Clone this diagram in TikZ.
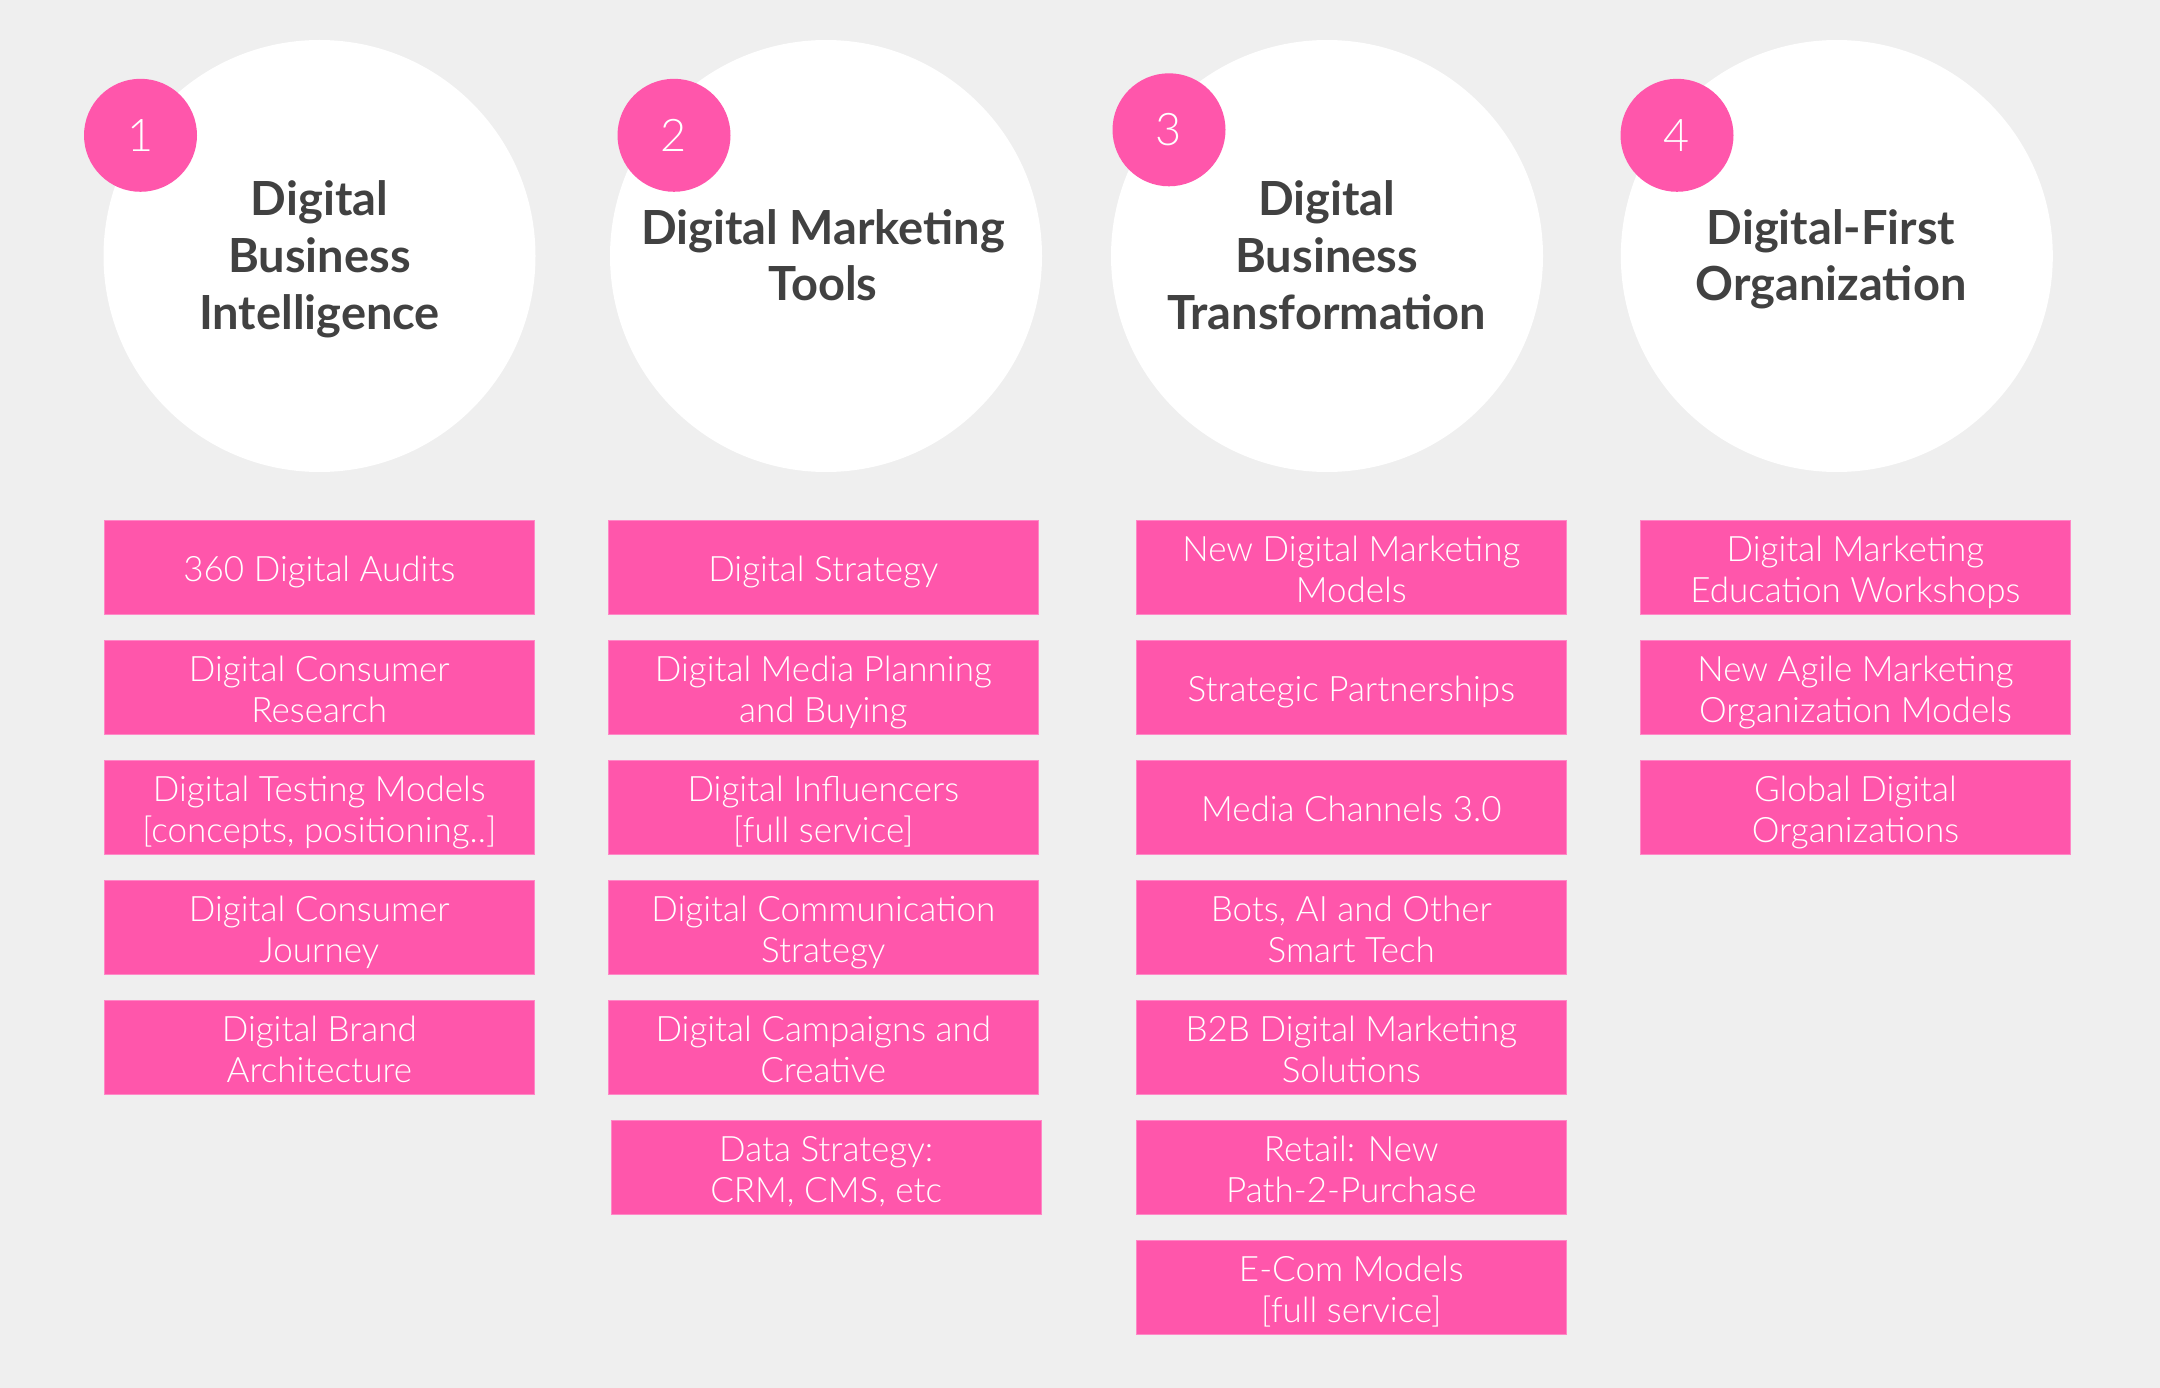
\documentclass[tikz,border=0pt]{standalone}
\usepackage{fontspec}
\setmainfont{Lato}
\newfontfamily\lightfont{Lato Light}
\definecolor{bg}{RGB}{239,239,239}
\definecolor{pinkfill}{RGB}{255,86,171}
\definecolor{pinkedge}{RGB}{255,135,198}
\definecolor{ink}{RGB}{65,65,65}
\tikzset{
  bigcirc/.style={circle, fill=white, minimum size=432pt, inner sep=0pt},
  badge/.style={circle, fill=pinkfill, minimum size=113pt, inner sep=0pt, text=white,
    font=\lightfont\fontsize{45}{50}\selectfont, text height=32pt, text depth=0pt},
  title/.style={align=center, text=ink, inner sep=0pt, text depth=0pt,
    font=\bfseries\fontsize{47}{56.7}\selectfont},
  tthree/.style={title, text height=146.6pt},
  ttwo/.style={title, text height=90pt},
  item/.style={rectangle, fill=pinkfill, draw=pinkedge, line width=1pt,
    minimum width=430pt, minimum height=94pt, inner sep=0pt, align=center, text=white,
    font=\lightfont\fontsize{35}{41.3}\selectfont, text depth=0pt},
  one/.style={item, text height=27pt},
  two/.style={item, text height=69.2pt},
}
\begin{document}
\begin{tikzpicture}[x=1pt, y=-1pt]
\useasboundingbox[fill=bg] (0,0) rectangle (2160,1388);

% circles
\node[bigcirc] (c1) at (319.5,256) {};
\node[bigcirc] (c2) at (826,256) {};
\node[bigcirc] (c3) at (1327,256) {};
\node[bigcirc] (c4) at (1836.8,256) {};

% titles
\node[tthree] (t1) at (319.5,256) {Digital\\Business\\Intelligence};
\node[ttwo]   (t2) at (823,256) {Digital Marketing\\Tools};
\node[tthree] (t3) at (1326.6,256) {Digital\\Business\\Transformation};
\node[ttwo]   (t4) at (1831,256) {Digital-First\\Organization};

% badges
\node[badge] (b1) at (140.5,135.3) {1};
\node[badge] (b2) at (674,135.3) {2};
\node[badge] (b3) at (1169,129.8) {3};
\node[badge] (b4) at (1677,135.3) {4};

% column 1
\node[one] (a1) at (319.3,567.7) {360 Digital Audits};
\node[two] (a2) at (319.3,687.7) {Digital Consumer\\Research};
\node[two] (a3) at (319.3,807.7) {Digital Testing Models\\{[}concepts, positioning..{]}};
\node[two] (a4) at (319.3,927.7) {Digital Consumer\\Journey};
\node[two] (a5) at (319.3,1047.7) {Digital Brand\\Architecture};

% column 2
\node[one] (m1) at (823.3,567.7) {Digital Strategy};
\node[two] (m2) at (823.3,687.7) {Digital Media Planning\\and Buying};
\node[two] (m3) at (823.3,807.7) {Digital Influencers\\{[}full service{]}};
\node[two] (m4) at (823.3,927.7) {Digital Communication\\Strategy};
\node[two] (m5) at (823.3,1047.7) {Digital Campaigns and\\Creative};
\node[two] (m6) at (826.2,1167.7) {Data Strategy:\\CRM, CMS, etc};

% column 3
\node[two] (d1) at (1351.3,567.7) {New Digital Marketing\\Models};
\node[one] (d2) at (1351.3,687.7) {Strategic Partnerships};
\node[one] (d3) at (1351.3,807.7) {Media Channels 3.0};
\node[two] (d4) at (1351.3,927.7) {Bots, AI and Other\\Smart Tech};
\node[two] (d5) at (1351.3,1047.7) {B2B Digital Marketing\\Solutions};
\node[two] (d6) at (1351.3,1167.7) {Retail: New\\Path-2-Purchase};
\node[two] (d7) at (1351.3,1287.7) {E-Com Models\\{[}full service{]}};

% column 4
\node[two] (o1) at (1855.4,567.7) {Digital Marketing\\Education Workshops};
\node[two] (o2) at (1855.4,687.7) {New Agile Marketing\\Organization Models};
\node[two] (o3) at (1855.4,807.7) {Global Digital\\Organizations};
\end{tikzpicture}
\end{document}
